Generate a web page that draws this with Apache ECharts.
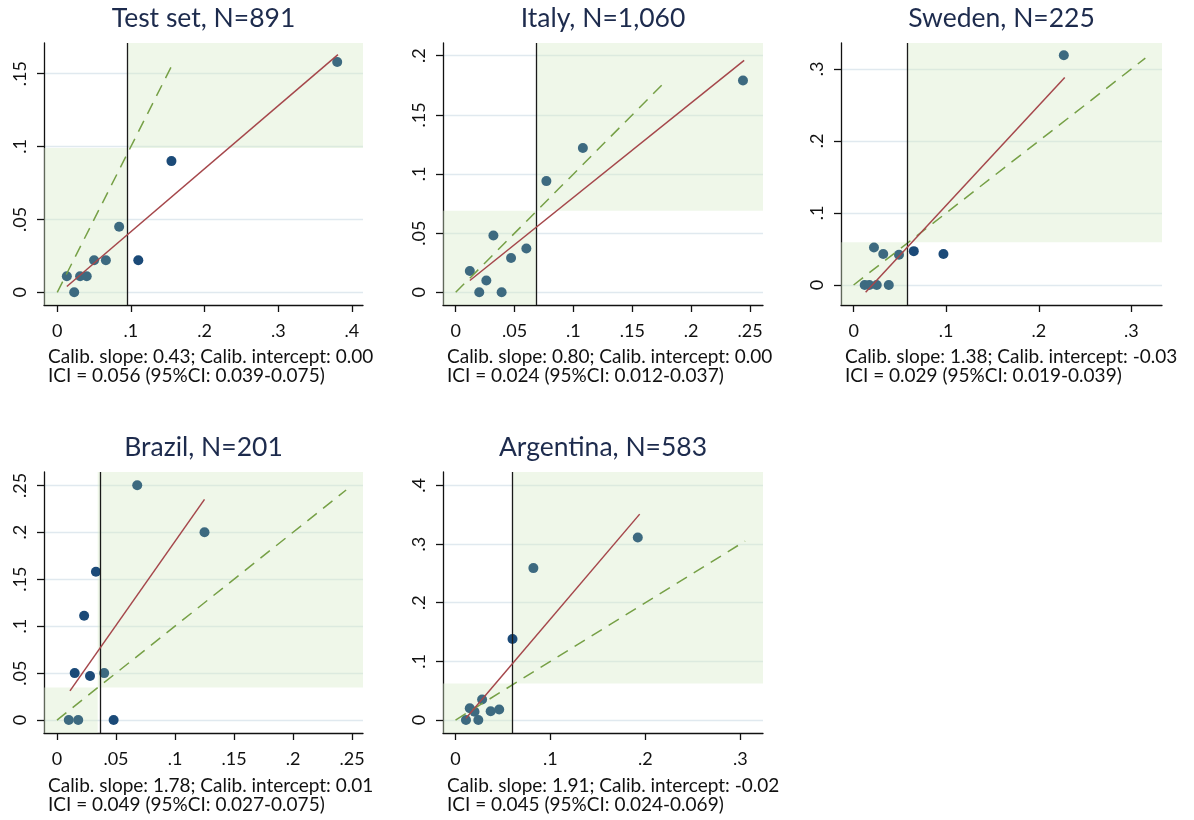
<!DOCTYPE html>
<html>
<head>
<meta charset="utf-8">
<script src="https://cdn.jsdelivr.net/npm/echarts@6/dist/echarts.min.js"></script>
<style>
  html, body { margin: 0; padding: 0; background: #fff; }
  #chart { width: 1194px; height: 820px; }
</style>
</head>
<body>
<div id="chart"></div>
<script>
// ---- data ----
const titles = ['Test set, N=891', 'Italy, N=1,060', 'Sweden, N=225', 'Brazil, N=201', 'Argentina, N=583'];
const slopeNotes = [
  'Calib. slope: 0.43; Calib. intercept: 0.00',
  'Calib. slope: 0.80; Calib. intercept: 0.00',
  'Calib. slope: 1.38; Calib. intercept: -0.03',
  'Calib. slope: 1.78; Calib. intercept: 0.01',
  'Calib. slope: 1.91; Calib. intercept: -0.02'
];
const iciNotes = [
  'ICI = 0.056 (95%CI: 0.039-0.075)',
  'ICI = 0.024 (95%CI: 0.012-0.037)',
  'ICI = 0.029 (95%CI: 0.019-0.039)',
  'ICI = 0.049 (95%CI: 0.027-0.075)',
  'ICI = 0.045 (95%CI: 0.024-0.069)'
];

// predicted (x) vs observed (y) per group; dark = 1 for groups in the discordant zones
const testPred = [0.013, 0.023, 0.031, 0.040, 0.050, 0.066, 0.084, 0.110, 0.155, 0.380];
const testObs  = [0.011, 0.000, 0.011, 0.011, 0.022, 0.022, 0.045, 0.022, 0.090, 0.158];
const testDark = [0, 0, 0, 0, 0, 0, 0, 1, 1, 0];

const italyPred = [0.012, 0.020, 0.026, 0.032, 0.039, 0.047, 0.060, 0.077, 0.108, 0.244];
const italyObs  = [0.018, 0.000, 0.010, 0.048, 0.000, 0.029, 0.037, 0.094, 0.122, 0.179];
const italyDark = [0, 0, 0, 0, 0, 0, 0, 0, 0, 0];

const swedenPred = [0.012, 0.017, 0.022, 0.025, 0.032, 0.038, 0.049, 0.065, 0.097, 0.227];
const swedenObs  = [0.000, 0.000, 0.052, 0.000, 0.043, 0.000, 0.042, 0.047, 0.043, 0.319];
const swedenDark = [0, 0, 0, 0, 0, 0, 0, 1, 1, 0];

const brazilPred = [0.010, 0.018, 0.015, 0.023, 0.028, 0.033, 0.040, 0.048, 0.068, 0.125];
const brazilObs  = [0.000, 0.000, 0.050, 0.111, 0.047, 0.158, 0.050, 0.000, 0.250, 0.200];
const brazilDark = [0, 0, 1, 1, 1, 1, 0, 1, 0, 0];

const argPred = [0.011, 0.015, 0.020, 0.024, 0.028, 0.037, 0.046, 0.060, 0.082, 0.192];
const argObs  = [0.000, 0.020, 0.014, 0.000, 0.035, 0.015, 0.018, 0.138, 0.259, 0.311];
const argDark = [0, 0, 0, 0, 0, 0, 0, 1, 0, 0];

// calibration fit line end points [start, end]
const fitX = [[0.013, 0.381], [0.012, 0.245], [0.013, 0.228], [0.011, 0.125], [0.011, 0.194]];
const fitY = [[0.004, 0.163], [0.010, 0.196], [-0.010, 0.288], [0.031, 0.235], [0.003, 0.351]];
// end of the y = x reference diagonal
const diagEnd = [0.157, 0.179, 0.315, 0.245, 0.305];

// risk thresholds: shaded zones (x / y) and the vertical reference line
const cutShadeX = [0.0955, 0.0686, 0.0582, 0.0345, 0.0599];
const cutShadeY = [0.099, 0.069, 0.0594, 0.0346, 0.0622];
const cutLine   = [0.0955, 0.0686, 0.0582, 0.0367, 0.0599];

// axis ranges and tick labels
const xRange = [[-0.018, 0.415], [-0.0108, 0.261], [-0.0136, 0.333], [-0.011, 0.2593], [-0.0132, 0.3239]];
const yRange = [[-0.0087, 0.171], [-0.0107, 0.2107], [-0.0278, 0.336], [-0.0138, 0.2642], [-0.0221, 0.4228]];
const xTicks = [
  [0, 0.1, 0.2, 0.3, 0.4],
  [0, 0.05, 0.1, 0.15, 0.2, 0.25],
  [0, 0.1, 0.2, 0.3],
  [0, 0.05, 0.1, 0.15, 0.2, 0.25],
  [0, 0.1, 0.2, 0.3]
];
const yTicks = [
  [0, 0.05, 0.1, 0.15],
  [0, 0.05, 0.1, 0.15, 0.2],
  [0, 0.1, 0.2, 0.3],
  [0, 0.05, 0.1, 0.15, 0.2, 0.25],
  [0, 0.1, 0.2, 0.3, 0.4]
];

const preds = [testPred, italyPred, swedenPred, brazilPred, argPred];
const obs = [testObs, italyObs, swedenObs, brazilObs, argObs];
const darks = [testDark, italyDark, swedenDark, brazilDark, argDark];

// ---- layout ----
const boxes = [
  { left: 44, top: 43, width: 319, height: 262 },
  { left: 443, top: 43, width: 320, height: 262 },
  { left: 841, top: 43, width: 321, height: 262 },
  { left: 44, top: 472, width: 319, height: 261 },
  { left: 443, top: 472, width: 320, height: 261 }
];
const noteLeft = [48, 447, 845, 48, 447];

const FONT = 'Lato, "Open Sans", sans-serif';
const fmt = (v) => (v === 0 ? '0' : String(v).replace(/^0/, ''));

const grid = [], xAxis = [], yAxis = [], series = [], title = [];

boxes.forEach((b, i) => {
  grid.push({ left: b.left, top: b.top, width: b.width, height: b.height, containLabel: false });

  xAxis.push({
    type: 'value', gridIndex: i, min: xRange[i][0], max: xRange[i][1],
    axisLine: { onZero: false, lineStyle: { color: '#111', width: 1.3 } },
    axisTick: { show: true, length: 7, customValues: xTicks[i], lineStyle: { color: '#111', width: 1.3 } },
    axisLabel: { customValues: xTicks[i], formatter: fmt, color: '#111', fontSize: 18, fontFamily: FONT, margin: 17 },
    splitLine: { show: false }
  });

  yAxis.push({
    type: 'value', gridIndex: i, min: yRange[i][0], max: yRange[i][1],
    axisLine: { onZero: false, lineStyle: { color: '#111', width: 1.3 } },
    axisTick: { show: true, length: 7, customValues: yTicks[i], lineStyle: { color: '#111', width: 1.3 } },
    axisLabel: { customValues: yTicks[i], formatter: fmt, color: '#111', fontSize: 18, fontFamily: FONT, rotate: 90, margin: 15 },
    splitLine: { show: true, lineStyle: { color: '#e0e9ef', width: 1.3 } }
  });

  const pts = preds[i].map((x, k) => [x, obs[i][k], darks[i][k]]);

  // shading + vertical reference line (precision kept so the line is not rounded to 2 decimals)
  series.push({
    type: 'line', xAxisIndex: i, yAxisIndex: i, data: [], z: 1, silent: true,
    markArea: {
      silent: true,
      itemStyle: { color: 'rgba(214,234,200,0.4)' },
      data: [
        [{ coord: [xRange[i][0], yRange[i][0]] }, { coord: [cutShadeX[i], cutShadeY[i]] }],
        [{ coord: [cutShadeX[i], cutShadeY[i]] }, { coord: [xRange[i][1], yRange[i][1]] }]
      ]
    },
    markLine: {
      silent: true, symbol: 'none', precision: 6, label: { show: false },
      lineStyle: { color: '#1a1a1a', width: 1.3, type: 'solid' },
      data: [{ xAxis: cutLine[i] }]
    }
  });

  series.push({
    type: 'scatter', xAxisIndex: i, yAxisIndex: i, z: 3, symbolSize: 10,
    itemStyle: { color: '#3d6a80', opacity: 1 },
    data: pts.filter((p) => !p[2]).map((p) => [p[0], p[1]])
  });
  series.push({
    type: 'scatter', xAxisIndex: i, yAxisIndex: i, z: 3, symbolSize: 10,
    itemStyle: { color: '#1b4a78', opacity: 1 },
    data: pts.filter((p) => p[2]).map((p) => [p[0], p[1]])
  });

  series.push({
    type: 'line', xAxisIndex: i, yAxisIndex: i, z: 4, symbol: 'none', silent: true,
    lineStyle: { color: '#76a046', width: 1.5, type: [12, 8] },
    data: [[0, 0], [diagEnd[i], diagEnd[i]]]
  });
  series.push({
    type: 'line', xAxisIndex: i, yAxisIndex: i, z: 5, symbol: 'none', silent: true,
    lineStyle: { color: '#a5474b', width: 1.5 },
    data: [[fitX[i][0], fitY[i][0]], [fitX[i][1], fitY[i][1]]]
  });

  title.push({
    text: titles[i], left: b.left + b.width / 2, top: i < 3 ? 5 : 434, textAlign: 'center', padding: 0,
    textStyle: { color: '#1d2b4d', fontSize: 26.5, fontWeight: 'normal', fontFamily: FONT }
  });
  title.push({
    text: slopeNotes[i] + '\n' + iciNotes[i], left: noteLeft[i], top: i < 3 ? 348 : 777, padding: 0,
    textStyle: { color: '#111', fontSize: 19, fontWeight: 'normal', fontFamily: FONT, lineHeight: 18.5 }
  });
});

const chart = echarts.init(document.getElementById('chart'), null, { renderer: 'canvas' });
chart.setOption({
  backgroundColor: '#fff',
  animation: false,
  title, grid, xAxis, yAxis, series
});
</script>
</body>
</html>
